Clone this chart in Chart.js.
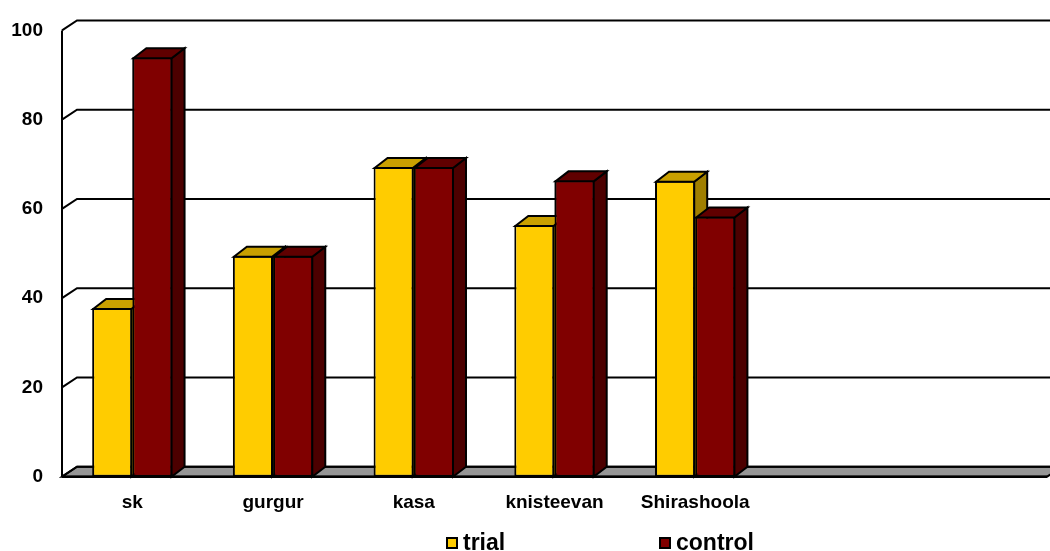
<!DOCTYPE html>
<html>
<head>
<meta charset="utf-8">
<script src="https://cdn.jsdelivr.net/npm/chart.js@4.4.1/dist/chart.umd.min.js"></script>
<style>
  html, body { margin: 0; padding: 0; background: #ffffff; }
  #wrap { width: 1050px; height: 551px; position: relative; }
</style>
</head>
<body>
<div id="wrap"><canvas id="chart"></canvas></div>
<script>
// Categories and series values
const categories = ['sk', 'gurgur', 'kasa', 'knisteevan', 'Shirashoola', '', ''];
const seriesNames = ['trial', 'control'];
const trialValues = [37.8, 49.5, 69.4, 56.4, 66.3, null, null];
const controlValues = [94.0, 49.5, 69.4, 66.4, 58.3, null, null];
const yTickValues = [0, 20, 40, 60, 80, 100];

// Face colours for the 3-D columns: front, top, side
const faceColors = [
  { front: '#FFCC00', top: '#C9A000', side: '#A07F00' },
  { front: '#800000', top: '#600000', side: '#4C0000' }
];

const FONT = "'Liberation Sans', Arial, Helvetica, sans-serif";
const WALL_DX = 15, WALL_DY = 10;   // depth of back wall / floor
const BAR_DX = 13, BAR_DY = 10;     // depth of each column

function poly(ctx, pts, fill) {
  ctx.beginPath();
  ctx.moveTo(pts[0][0], pts[0][1]);
  for (let i = 1; i < pts.length; i++) ctx.lineTo(pts[i][0], pts[i][1]);
  ctx.closePath();
  ctx.fillStyle = fill;
  ctx.fill();
  ctx.stroke();
}

// top and side faces of one column, drawn from its bar element
function drawDepthFaces(ctx, bar, colors) {
  const p = bar.getProps(['x', 'y', 'base', 'width'], true);
  const l = p.x - p.width / 2 + 1;
  const r = p.x + p.width / 2 - 1;
  const top = p.y + 1;
  const bottom = p.base;
  poly(ctx, [[r, top], [r + BAR_DX, top - BAR_DY], [r + BAR_DX, bottom - BAR_DY], [r, bottom]], colors.side);
  poly(ctx, [[l, top], [l + BAR_DX, top - BAR_DY], [r + BAR_DX, top - BAR_DY], [r, top]], colors.top);
}

const depthPlugin = {
  id: 'depth3d',
  beforeDatasetsDraw(chart) {
    const { ctx, chartArea: a, scales: { y } } = chart;
    ctx.save();
    ctx.strokeStyle = '#000';
    ctx.lineWidth = 2;
    ctx.lineJoin = 'miter';
    // floor
    poly(ctx, [
      [a.left, a.bottom], [a.right, a.bottom],
      [a.right + WALL_DX, a.bottom - WALL_DY], [a.left + WALL_DX, a.bottom - WALL_DY]
    ], '#969696');
    ctx.lineWidth = 2.5;
    ctx.beginPath();
    ctx.moveTo(a.left, a.bottom);
    ctx.lineTo(a.right, a.bottom);
    ctx.stroke();
    ctx.lineWidth = 2;
    // wall gridlines following the y-axis ticks
    y.ticks.forEach(t => {
      const py = y.getPixelForValue(t.value);
      ctx.beginPath();
      ctx.moveTo(a.left, py);
      ctx.lineTo(a.left + WALL_DX, py - WALL_DY);
      ctx.lineTo(chart.width + 30, py - WALL_DY);
      ctx.stroke();
    });
    // front vertical axis
    ctx.beginPath();
    ctx.moveTo(a.left, a.top);
    ctx.lineTo(a.left, a.bottom);
    ctx.stroke();
    ctx.restore();
  },
  afterDatasetsDraw(chart) {
    // paint each column group back to front: first series' depth faces,
    // then the second series' column on top of them, then its depth faces
    const { ctx } = chart;
    const metaA = chart.getDatasetMeta(0);
    const metaB = chart.getDatasetMeta(1);
    const valsA = chart.data.datasets[0].data;
    const valsB = chart.data.datasets[1].data;
    ctx.save();
    ctx.strokeStyle = '#000';
    ctx.lineWidth = 2;
    ctx.lineJoin = 'miter';
    categories.forEach((c, i) => {
      if (valsA[i] != null) drawDepthFaces(ctx, metaA.data[i], faceColors[0]);
      if (valsB[i] != null) {
        ctx.save();
        metaB.data[i].draw(ctx);
        ctx.restore();
        ctx.strokeStyle = '#000';
        ctx.lineWidth = 2;
        drawDepthFaces(ctx, metaB.data[i], faceColors[1]);
      }
    });
    ctx.restore();
  },
  afterDraw(chart) {
    // legend below the axis labels
    const { ctx } = chart;
    const items = [
      { x: 446, label: chart.data.datasets[0].label, color: faceColors[0].front },
      { x: 659, label: chart.data.datasets[1].label, color: faceColors[1].front }
    ];
    ctx.save();
    ctx.font = 'bold 23px ' + FONT;
    ctx.textBaseline = 'alphabetic';
    ctx.textAlign = 'left';
    items.forEach(it => {
      ctx.fillStyle = '#000';
      ctx.fillRect(it.x, 537, 12, 12);
      ctx.fillStyle = it.color;
      ctx.fillRect(it.x + 2, 539, 8, 8);
      ctx.fillStyle = '#000';
      ctx.fillText(it.label, it.x + 17, 550);
    });
    ctx.restore();
  }
};

new Chart(document.getElementById('chart'), {
  type: 'bar',
  data: {
    labels: categories,
    datasets: [
      {
        label: seriesNames[0], data: trialValues,
        backgroundColor: faceColors[0].front, borderColor: '#000', borderWidth: 2, borderSkipped: false
      },
      {
        label: seriesNames[1], data: controlValues,
        backgroundColor: faceColors[1].front, borderColor: '#000', borderWidth: 2, borderSkipped: false
      }
    ]
  },
  options: {
    responsive: true,
    maintainAspectRatio: false,
    animation: false,
    layout: { padding: { top: 23.3, right: 3, bottom: 34.3, left: 0 } },
    datasets: { bar: { categoryPercentage: 2 / 3.5, barPercentage: 1.0 } },
    plugins: { legend: { display: false }, tooltip: { enabled: false } },
    scales: {
      x: {
        grid: { display: false, drawTicks: false },
        border: { display: false },
        ticks: { color: '#000', font: { family: FONT, size: 19, weight: 'bold' }, padding: 15, maxRotation: 0, autoSkip: false },
        afterFit(scale) { scale.height = 40; }
      },
      y: {
        min: 0, max: 100,
        afterBuildTicks(scale) { scale.ticks = yTickValues.map(v => ({ value: v })); },
        grid: { display: false, drawTicks: false },
        border: { display: false },
        ticks: { color: '#000', font: { family: FONT, size: 19, weight: 'bold' }, padding: 19 },
        afterFit(scale) { scale.width = 62; }
      }
    }
  },
  plugins: [depthPlugin]
});
</script>
</body>
</html>
